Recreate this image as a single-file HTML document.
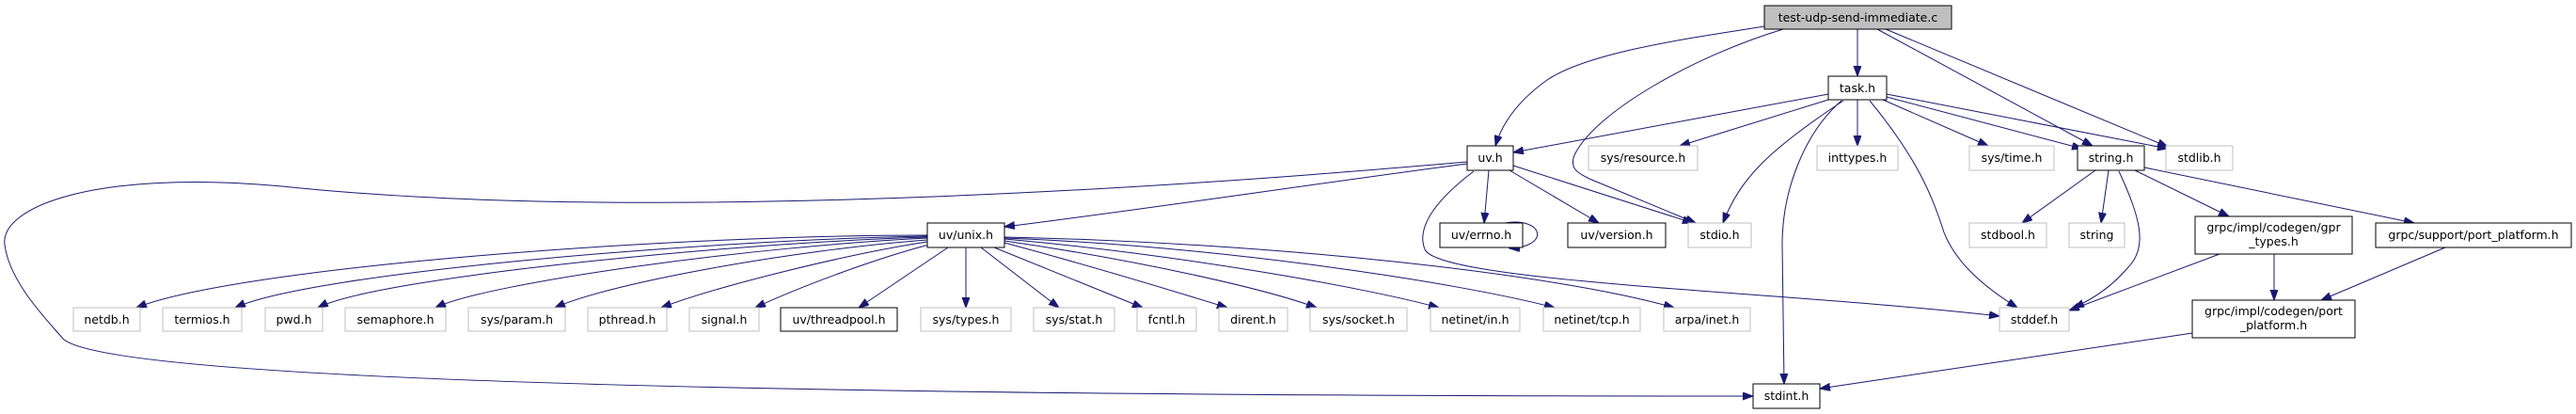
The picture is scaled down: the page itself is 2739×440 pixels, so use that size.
<!DOCTYPE html>
<html><head><meta charset="utf-8"><style>
html,body{margin:0;padding:0;background:#fff;}
svg{display:block;}
text{font-family:"DejaVu Sans","Liberation Sans",sans-serif;font-size:12.5px;fill:#000;}
.g{fill:#fff;stroke:#bfbfbf;stroke-width:1;}
.b{fill:#fff;stroke:#000;stroke-width:1;}
.e{fill:none;stroke:#191970;stroke-width:1;marker-end:url(#a);}
</style></head><body>
<svg width="2739" height="440" viewBox="0 0 2739 440" xmlns="http://www.w3.org/2000/svg">
<defs><marker id="a" markerUnits="userSpaceOnUse" markerWidth="12" markerHeight="9" refX="11" refY="4" orient="auto"><path d="M0,0 L11,4 L0,8 z" fill="#191970" stroke="#191970"/></marker></defs>

<!-- edges -->
<path class="e" d="M1876,28 C1800,40 1690,55 1645,85 C1610,110 1596,135 1590,155"/>
<path class="e" d="M1896,31 C1800,60 1695,120 1674,165 C1668,180 1680,185 1690,190 L1803,237"/>
<path class="e" d="M1975,31 L1975,81"/>
<path class="e" d="M1996,31 L2225,155"/>
<path class="e" d="M2005,31 L2305,156"/>
<path class="e" d="M1944,100 L1609,162"/>
<path class="e" d="M1944,106 L1786,155"/>
<path class="e" d="M1960,107 C1880,160 1850,190 1832,237"/>
<path class="e" d="M1958,107 C1920,140 1895,200 1895,260 L1897,408"/>
<path class="e" d="M1975,106 L1975,155"/>
<path class="e" d="M1988,107 C2040,170 2055,210 2067,247 C2080,280 2110,305 2145,327"/>
<path class="e" d="M2002,106 L2114,155"/>
<path class="e" d="M2006,103 L2214,158"/>
<path class="e" d="M2006,100 L2305,158"/>
<path class="e" d="M1560,174 C1400,195 1200,225 1068,241"/>
<path class="e" d="M1560,172 C1300,195 700,240 300,198 C100,180 0,220 5,260 C10,300 50,340 67,360 C120,410 1000,421 1864,421"/>
<path class="e" d="M1583,181 L1578,237"/>
<path class="e" d="M1605,181 L1700,237"/>
<path class="e" d="M1609,176 L1800,237"/>
<path class="e" d="M1567,182 C1530,210 1505,240 1515,265 C1530,300 1900,310 2126,336"/>
<path class="e" d="M1600,237 C1640,230 1650,262 1605,264"/>
<path class="e" d="M2360,270 L2200,330"/>
<path class="e" d="M2418,270 L2418,319"/>
<path class="e" d="M2228,181 L2150,237"/>
<path class="e" d="M2242,181 L2234,237"/>
<path class="e" d="M2253,182 C2275,230 2285,262 2262,285 C2245,305 2225,318 2205,327"/>
<path class="e" d="M2270,181 L2370,230"/>
<path class="e" d="M2280,178 L2567,237"/>
<path class="e" d="M2600,263 L2468,319"/>
<path class="e" d="M2331,354 L1935,413"/>

<!-- uv/unix.h fan -->
<path class="e" d="M986,250 C700,250 250,285 145,327"/>
<path class="e" d="M986,251 C750,255 330,290 250,327"/>
<path class="e" d="M986,252 C780,258 400,295 338,327"/>
<path class="e" d="M986,253 C800,262 520,300 463,327"/>
<path class="e" d="M986,255 C850,265 650,300 590,327"/>
<path class="e" d="M986,257 C900,270 760,305 703,327"/>
<path class="e" d="M988,260 C930,275 850,305 803,327"/>
<path class="e" d="M1008,263 L913,327"/>
<path class="e" d="M1027,263 L1027,327"/>
<path class="e" d="M1043,263 L1126,327"/>
<path class="e" d="M1057,263 L1215,327"/>
<path class="e" d="M1068,258 C1150,280 1250,310 1305,327"/>
<path class="e" d="M1068,256 C1200,275 1340,305 1400,327"/>
<path class="e" d="M1068,254 C1250,270 1450,305 1530,327"/>
<path class="e" d="M1068,253 C1300,262 1550,300 1653,327"/>
<path class="e" d="M1068,252 C1350,258 1650,290 1780,327"/>

<!-- nodes -->
<rect x="1876" y="6" width="199" height="25" fill="#bfbfbf" stroke="#000"/>
<text x="1975.5" y="23" text-anchor="middle">test-udp-send-immediate.c</text>
<rect class="b" x="1944" y="81" width="62" height="25"/><text x="1975" y="98" text-anchor="middle">task.h</text>
<rect class="b" x="1560" y="155" width="49" height="26"/><text x="1584.5" y="172" text-anchor="middle">uv.h</text>
<rect class="g" x="1689" y="155" width="116" height="26"/><text x="1747" y="172" text-anchor="middle">sys/resource.h</text>
<rect class="g" x="1932" y="155" width="86" height="26"/><text x="1975" y="172" text-anchor="middle">inttypes.h</text>
<rect class="g" x="2094" y="155" width="90" height="26"/><text x="2139" y="172" text-anchor="middle">sys/time.h</text>
<rect class="b" x="2209" y="155" width="71" height="26"/><text x="2244.5" y="172" text-anchor="middle">string.h</text>
<rect class="g" x="2303" y="155" width="71" height="26"/><text x="2338.5" y="172" text-anchor="middle">stdlib.h</text>

<rect class="b" x="986" y="237" width="82" height="26"/><text x="1027" y="254" text-anchor="middle">uv/unix.h</text>
<rect class="b" x="1531" y="237" width="88" height="26"/><text x="1575" y="254" text-anchor="middle">uv/errno.h</text>
<rect class="b" x="1667" y="237" width="104" height="26"/><text x="1719" y="254" text-anchor="middle">uv/version.h</text>
<rect class="g" x="1795" y="237" width="67" height="26"/><text x="1828.5" y="254" text-anchor="middle">stdio.h</text>
<rect class="g" x="2094" y="237" width="82" height="26"/><text x="2135" y="254" text-anchor="middle">stdbool.h</text>
<rect class="g" x="2200" y="237" width="59" height="26"/><text x="2229.5" y="254" text-anchor="middle">string</text>
<rect class="b" x="2334" y="230" width="167" height="40"/><text x="2417.5" y="246" text-anchor="middle">grpc/impl/codegen/gpr</text><text x="2417.5" y="261" text-anchor="middle">_types.h</text>
<rect class="b" x="2526" y="237" width="208" height="26"/><text x="2630" y="254" text-anchor="middle">grpc/support/port_platform.h</text>

<rect class="g" x="78" y="327" width="71" height="25"/><text x="113.5" y="344" text-anchor="middle">netdb.h</text>
<rect class="g" x="173" y="327" width="84" height="25"/><text x="215" y="344" text-anchor="middle">termios.h</text>
<rect class="g" x="282" y="327" width="61" height="25"/><text x="312.5" y="344" text-anchor="middle">pwd.h</text>
<rect class="g" x="367" y="327" width="107" height="25"/><text x="420.5" y="344" text-anchor="middle">semaphore.h</text>
<rect class="g" x="498" y="327" width="103" height="25"/><text x="549.5" y="344" text-anchor="middle">sys/param.h</text>
<rect class="g" x="625" y="327" width="84" height="25"/><text x="667" y="344" text-anchor="middle">pthread.h</text>
<rect class="g" x="733" y="327" width="74" height="25"/><text x="770" y="344" text-anchor="middle">signal.h</text>
<rect class="b" x="830" y="327" width="124" height="25"/><text x="892" y="344" text-anchor="middle">uv/threadpool.h</text>
<rect class="g" x="979" y="327" width="96" height="25"/><text x="1027" y="344" text-anchor="middle">sys/types.h</text>
<rect class="g" x="1099" y="327" width="86" height="25"/><text x="1142" y="344" text-anchor="middle">sys/stat.h</text>
<rect class="g" x="1209" y="327" width="63" height="25"/><text x="1240.5" y="344" text-anchor="middle">fcntl.h</text>
<rect class="g" x="1296" y="327" width="73" height="25"/><text x="1332.5" y="344" text-anchor="middle">dirent.h</text>
<rect class="g" x="1393" y="327" width="103" height="25"/><text x="1444.5" y="344" text-anchor="middle">sys/socket.h</text>
<rect class="g" x="1521" y="327" width="95" height="25"/><text x="1568.5" y="344" text-anchor="middle">netinet/in.h</text>
<rect class="g" x="1641" y="327" width="103" height="25"/><text x="1692.5" y="344" text-anchor="middle">netinet/tcp.h</text>
<rect class="g" x="1769" y="327" width="92" height="25"/><text x="1815" y="344" text-anchor="middle">arpa/inet.h</text>
<rect class="g" x="2126" y="327" width="74" height="25"/><text x="2163" y="344" text-anchor="middle">stddef.h</text>
<rect class="b" x="2331" y="319" width="173" height="40"/><text x="2417.5" y="335" text-anchor="middle">grpc/impl/codegen/port</text><text x="2417.5" y="350" text-anchor="middle">_platform.h</text>
<rect class="b" x="1864" y="408" width="71" height="26"/><text x="1899.5" y="425" text-anchor="middle">stdint.h</text>
</svg>
</body></html>
